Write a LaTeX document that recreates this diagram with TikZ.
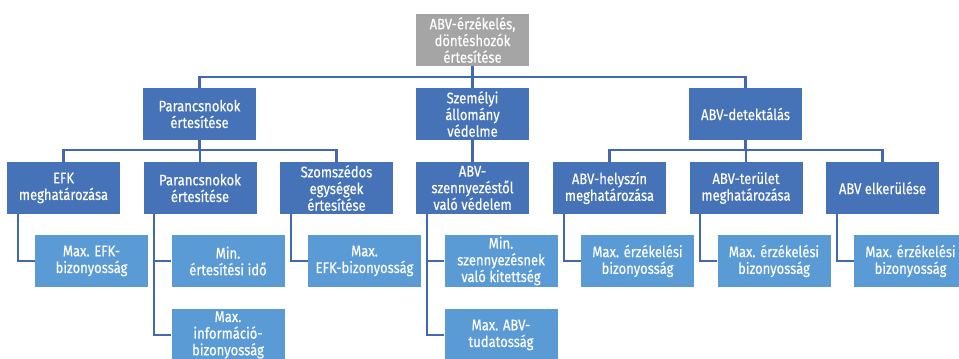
\documentclass[tikz,border=0pt]{standalone}
\usepackage{fontspec}
\setmainfont[FakeStretch=0.85,FakeBold=0.3]{Fira Sans}
\usepackage{tikz}
\usetikzlibrary{calc}
\definecolor{boxblue}{RGB}{ 70, 114, 184 }
\definecolor{leafblue}{RGB}{ 91, 155, 213 }
\definecolor{rootgray}{RGB}{ 165, 165, 165 }
\definecolor{linkblue}{RGB}{ 66, 104, 176 }

\begin{document}
\begin{tikzpicture}[x=0.75pt,y=-0.75pt,font=\fontsize{11.5}{12.5}\selectfont]
\tikzstyle{box}=[rectangle,draw=none,text=white,align=center,inner sep=0,
                 minimum width=84.75pt,minimum height=39pt]
\tikzstyle{main box}=[box,fill=boxblue]
\tikzstyle{leaf box}=[box,fill=leafblue]
\tikzstyle{link}=[draw=linkblue,line width=1.6pt]

\useasboundingbox (0,0) rectangle (959,358);

% root
\node(root)[box,fill=rootgray] at (472.5,40) {ABV-érzékelés,\\döntéshozók\\értesítése};

% first level
\node(par)[main box] at (199.5,114) {Parancsnokok\\értesítése};
\node(szem)[main box] at (472.5,114) {Személyi\\állomány\\védelme};
\node(det)[main box] at (745.5,114) {ABV-detektálás};

% second level
\node(efk)[main box] at (63.5,188) {EFK\\meghatározása};
\node(ert)[main box] at (200,188) {Parancsnokok\\értesítése};
\node(szom)[main box] at (336.5,188) {Szomszédos\\egységek\\értesítése};
\node(szenny)[main box] at (472.5,188) {ABV-\\szennyezéstől\\való védelem};
\node(hely)[main box] at (609.5,188) {ABV-helyszín\\meghatározása};
\node(ter)[main box] at (746,188) {ABV-terület\\meghatározása};
\node(elk)[main box] at (882.5,188) {ABV elkerülése};

% third level
\node(efkbiz)[leaf box] at (91.5,261) {Max. EFK-\\bizonyosság};
\node(ido)[leaf box] at (228,261) {Min.\\értesítési idő};
\node(info)[leaf box] at (228,335) {Max.\\információ-\\bizonyosság};
\node(szombiz)[leaf box] at (364.5,261) {Max.\\EFK-bizonyosság};
\node(kitett)[leaf box] at (501,261) {Min.\\szennyezésnek\\való kitettség};
\node(tudat)[leaf box] at (501,335) {Max. ABV-\\tudatosság};
\node(helybiz)[leaf box] at (637.5,261) {Max. érzékelési\\bizonyosság};
\node(terbiz)[leaf box] at (774,261) {Max. érzékelési\\bizonyosság};
\node(elkbiz)[leaf box] at (910.5,261) {Max. érzékelési\\bizonyosság};

% connectors
\foreach \c in {par,szem,det}
    \draw[link] (root.south) -- ++(0,11) -| (\c.north);
\foreach \c in {efk,ert,szom}
    \draw[link] (par.south) -- ++(0,10) -| (\c.north);
\draw[link] (szem.south) -- (szenny.north);
\foreach \c in {hely,ter,elk}
    \draw[link] (det.south) -- ++(0,10) -| (\c.north);

% side links to the leaves
\draw[link] ([xshift=8.25pt]efk.south west) |- (efkbiz.west);
\draw[link] ([xshift=8.25pt]ert.south west) |- (ido.west);
\draw[link] ([xshift=8.25pt]ert.south west) |- (info.west);
\draw[link] ([xshift=8.25pt]szom.south west) |- (szombiz.west);
\draw[link] ([xshift=8.25pt]szenny.south west) |- (kitett.west);
\draw[link] ([xshift=8.25pt]szenny.south west) |- (tudat.west);
\draw[link] ([xshift=8.25pt]hely.south west) |- (helybiz.west);
\draw[link] ([xshift=8.25pt]ter.south west) |- (terbiz.west);
\draw[link] ([xshift=8.25pt]elk.south west) |- (elkbiz.west);

\end{tikzpicture}
\end{document}
